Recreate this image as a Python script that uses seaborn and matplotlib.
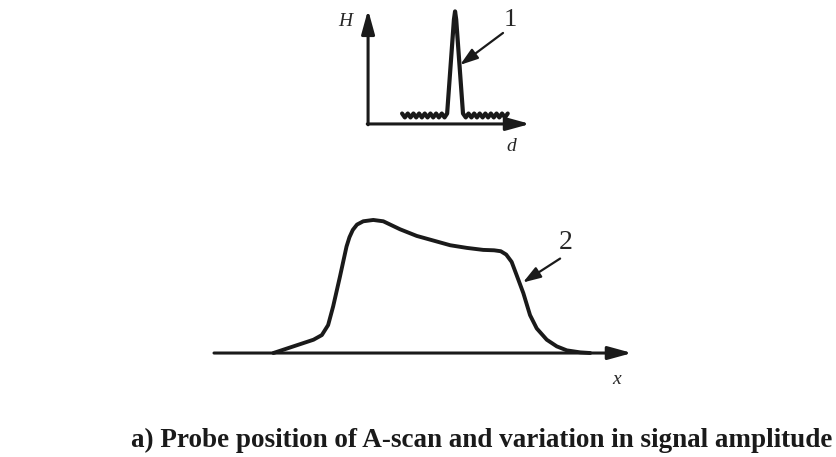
import matplotlib.pyplot as plt
import seaborn as sns
import pandas as pd

# A-scan (top): depth d vs amplitude H, noise + echo peak 1
ascan_d = [2.10, 2.27, 2.45, 2.62, 2.80, 2.97, 3.15, 3.32, 3.50, 3.67, 3.85, 4.02,
           4.20, 4.37, 4.55, 4.72, 4.88, 5.30, 5.37, 5.44, 5.86, 6.03, 6.20, 6.38,
           6.55, 6.72, 6.89, 7.07, 7.24, 7.41, 7.58, 7.76, 7.93, 8.10, 8.27, 8.45, 8.62]
ascan_h = [0.64, 0.40, 0.64, 0.40, 0.64, 0.40, 0.64, 0.40, 0.64, 0.40, 0.64, 0.40,
           0.64, 0.40, 0.64, 0.40, 0.64, 6.40, 6.90, 6.40, 0.64, 0.40, 0.64, 0.40,
           0.64, 0.40, 0.64, 0.40, 0.64, 0.40, 0.64, 0.40, 0.64, 0.40, 0.64, 0.40, 0.64]

# amplitude variation (bottom): probe position x vs signal amplitude, curve 2
scan_x = [14.2, 19.0, 23.8, 25.8, 27.3, 28.5, 30.1, 31.7, 32.4, 33.2, 34.2, 35.7, 38.1,
          40.5, 44.5, 48.5, 52.5, 56.5, 60.5, 64.4, 67.0, 68.6, 69.9, 71.2, 72.4, 74.0,
          75.6, 77.2, 79.6, 82.0, 84.4, 87.6, 90.0]
scan_amp = [0.00, 0.05, 0.10, 0.135, 0.21, 0.35, 0.57, 0.80, 0.87, 0.925, 0.965, 0.99, 1.00,
            0.99, 0.93, 0.88, 0.845, 0.81, 0.79, 0.775, 0.772, 0.765, 0.74, 0.685, 0.585, 0.45,
            0.285, 0.185, 0.10, 0.05, 0.02, 0.005, 0.00]

caption = "a) Probe position of A-scan and variation in signal amplitude"

sns.set_theme(style="white")
plt.rcParams["font.family"] = ["Liberation Serif", "DejaVu Serif"]

fig = plt.figure(figsize=(8.37, 4.57), dpi=100)
ink = "#1a1a1a"
arrow = dict(arrowstyle="-|>,head_length=1.2,head_width=0.33", color=ink,
             lw=2.2, shrinkA=0, shrinkB=0)
pointer = dict(arrowstyle="-|>,head_length=0.9,head_width=0.3", color=ink,
               lw=1.6, shrinkA=0, shrinkB=0)

# top: A-scan
ax1 = fig.add_axes([330 / 837, 297 / 457, 220 / 837, 160 / 457])
df1 = pd.DataFrame({"d": ascan_d, "H": ascan_h})
sns.lineplot(data=df1, x="d", y="H", sort=False, ax=ax1, color=ink, lw=3.0,
             solid_joinstyle="round")
ax1.annotate("", xy=(0, 7.0), xytext=(0, -0.05), arrowprops=arrow)
ax1.annotate("", xy=(10, 0), xytext=(-0.05, 0), arrowprops=arrow)
ax1.text(-1.42, 6.26, "H", style="italic", fontsize=14, ha="center", va="center")
ax1.text(8.83, -1.41, "d", style="italic", fontsize=14, ha="center", va="center")
ax1.text(8.77, 6.4, "1", fontsize=19, ha="center", va="center")
ax1.annotate("", xy=(5.68, 3.62), xytext=(8.33, 5.58), arrowprops=pointer)
ax1.set_xlim(-2.35, 11.23)
ax1.set_ylim(-2.21, 7.6)
ax1.axis("off")

# bottom: amplitude along probe path
ax2 = fig.add_axes([200 / 837, 57 / 457, 450 / 837, 200 / 457])
df2 = pd.DataFrame({"x": scan_x, "amp": scan_amp})
sns.lineplot(data=df2, x="x", y="amp", sort=False, ax=ax2, color=ink, lw=2.8,
             solid_joinstyle="round", solid_capstyle="round")
ax2.annotate("", xy=(100, 0), xytext=(0, 0), arrowprops=arrow)
ax2.text(96.4, -0.2, "x", style="italic", fontsize=14, ha="center", va="center")
ax2.text(84.2, 0.83, "2", fontsize=20, ha="center", va="center")
ax2.annotate("", xy=(73.9, 0.53), xytext=(82.8, 0.71), arrowprops=pointer)
ax2.set_xlim(-3.35, 104.3)
ax2.set_ylim(-0.353, 1.15)
ax2.axis("off")

fig.text(0.576, 0.037, caption, fontsize=19.5, fontweight="bold", ha="center",
         va="center", color=ink)

fig.savefig("out.png", dpi=100)
